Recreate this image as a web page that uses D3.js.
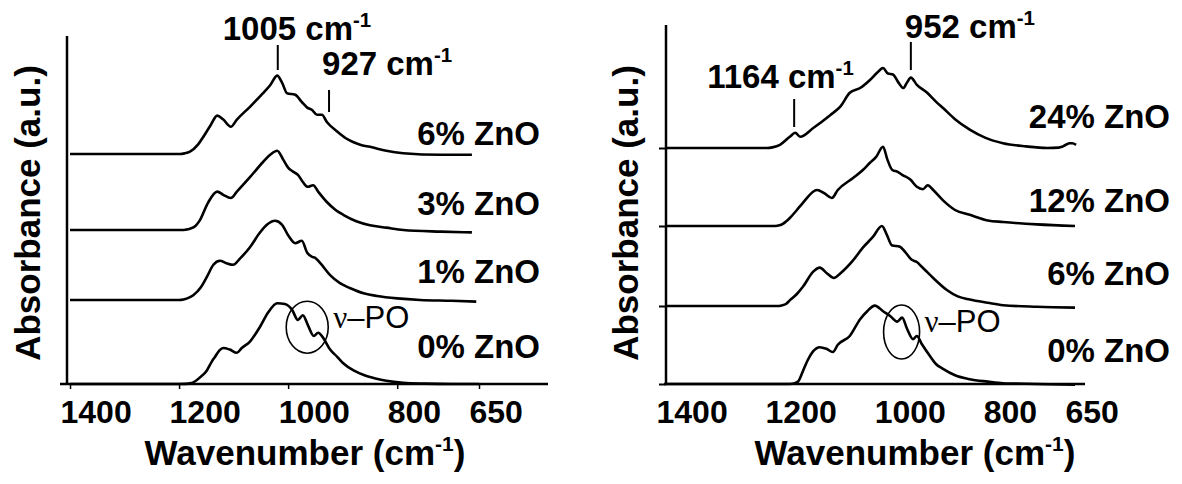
<!DOCTYPE html>
<html>
<head>
<meta charset="utf-8">
<script src="https://cdn.jsdelivr.net/npm/d3@7"></script>
<style>
  body { margin: 0; background: #fff; }
  svg text { font-family: "Liberation Sans", Arial, sans-serif; font-weight: bold; fill: #000; }
</style>
</head>
<body>
<svg id="chart" width="1182" height="484"></svg>
<script>
// tick labels (both panels)
var wnTicks = [1400, 1200, 1000, 800, 650];

// left panel: sample names, stacking offsets (a.u.), spectra [wavenumber, absorbance]
var leftNames = ['0% ZnO', '1% ZnO', '3% ZnO', '6% ZnO'];
var leftOffsets = [0, 1.05, 1.925, 2.875];
var left0 = [[1400,0],[1300,0],[1200,0],[1188,0.002],[1180,0.008],[1174,0.02],[1162,0.08],[1149,0.17],[1140,0.28],[1134,0.34],[1126,0.42],[1119,0.45],[1107,0.43],[1094,0.39],[1085,0.45],[1070,0.53],[1052,0.71],[1037,0.89],[1020,1.01],[1006,1.0],[993,0.93],[982,0.8],[973,0.86],[964,0.74],[953,0.6],[945,0.64],[936,0.58],[923,0.43],[910,0.34],[899,0.26],[880,0.17],[860,0.11],[840,0.07],[820,0.04],[789,0.015],[750,0.005],[700,0],[650,0]];
var left1 = [[1400,0],[1300,0],[1200,0],[1192,0.006],[1185,0.02],[1174,0.06],[1160,0.16],[1149,0.29],[1137,0.44],[1125,0.49],[1113,0.46],[1101,0.44],[1088,0.52],[1070,0.66],[1052,0.84],[1039,0.94],[1024,0.99],[1011,0.94],[1000,0.81],[987,0.71],[975,0.74],[965,0.59],[956,0.54],[951,0.53],[941,0.46],[923,0.31],[905,0.21],[887,0.15],[860,0.08],[837,0.05],[800,0.02],[758,0],[700,-0.01],[655,-0.02]];
var left3 = [[1400,0],[1300,0],[1196,0],[1188,0.004],[1180,0.015],[1170,0.05],[1162,0.12],[1147,0.34],[1130,0.48],[1119,0.44],[1105,0.4],[1094,0.48],[1070,0.66],[1046,0.85],[1033,0.94],[1020,0.99],[1009,0.88],[1000,0.78],[991,0.73],[982,0.69],[973,0.6],[964,0.54],[954,0.56],[945,0.48],[929,0.35],[913,0.25],[899,0.19],[875,0.11],[850,0.06],[820,0.03],[789,0],[720,-0.02],[663,-0.03]];
var left6 = [[1400,0],[1300,0],[1198,0],[1190,0.008],[1180,0.03],[1165,0.12],[1156,0.21],[1143,0.35],[1130,0.48],[1119,0.43],[1105,0.34],[1094,0.43],[1070,0.59],[1046,0.76],[1033,0.86],[1020,0.98],[1011,0.89],[1002,0.76],[987,0.74],[975,0.65],[965,0.58],[956,0.55],[947,0.49],[938,0.49],[929,0.4],[910,0.28],[895,0.2],[881,0.15],[865,0.11],[850,0.09],[820,0.04],[789,0.01],[720,-0.01],[663,-0.01]];

// right panel
var rightNames = ['0% ZnO', '6% ZnO', '12% ZnO', '24% ZnO'];
var rightOffsets = [0, 0.975, 1.975, 2.95];
var right0 = [[1400,0],[1300,0],[1180,0],[1168,0.004],[1158,0.03],[1149,0.16],[1140,0.3],[1130,0.41],[1118,0.46],[1106,0.44],[1094,0.4],[1085,0.49],[1063,0.6],[1044,0.81],[1031,0.91],[1017,0.98],[1002,0.91],[989,0.85],[976,0.78],[967,0.83],[958,0.69],[947,0.56],[940,0.6],[931,0.5],[916,0.35],[905,0.25],[892,0.19],[870,0.11],[843,0.06],[810,0.03],[782,0.01],[720,0],[650,-0.01]];
var right6 = [[1400,0],[1300,0],[1196,0],[1188,0.007],[1180,0.025],[1173,0.07],[1160,0.15],[1149,0.24],[1130,0.43],[1118,0.48],[1105,0.41],[1092,0.35],[1080,0.41],[1057,0.57],[1039,0.73],[1021,0.86],[1004,1.0],[995,0.89],[986,0.76],[971,0.74],[962,0.68],[950,0.58],[940,0.55],[931,0.49],[925,0.45],[910,0.35],[885,0.2],[865,0.12],[843,0.08],[810,0.04],[782,0.01],[720,-0.01],[650,-0.02]];
var right12 = [[1400,0],[1300,0],[1200,0],[1192,0.008],[1185,0.03],[1173,0.1],[1160,0.2],[1149,0.29],[1123,0.45],[1110,0.41],[1096,0.35],[1085,0.45],[1057,0.6],[1039,0.7],[1026,0.79],[1015,0.86],[1002,0.99],[994,0.83],[985,0.7],[976,0.68],[967,0.64],[952,0.58],[940,0.49],[929,0.46],[920,0.51],[910,0.45],[892,0.32],[870,0.2],[843,0.14],[810,0.07],[782,0.05],[720,0.02],[650,0]];
var right24 = [[1400,0],[1300,0],[1215,0],[1205,0.008],[1191,0.04],[1173,0.14],[1163,0.19],[1154,0.14],[1130,0.25],[1099,0.41],[1080,0.52],[1063,0.69],[1044,0.75],[1026,0.85],[1013,0.94],[1002,1.0],[993,0.93],[984,0.92],[974,0.82],[965,0.75],[958,0.82],[951,0.88],[940,0.79],[921,0.69],[905,0.58],[892,0.5],[870,0.36],[843,0.23],[815,0.13],[782,0.06],[740,0.02],[701,0],[680,0.005],[672,0.02],[660,0.06],[655,0.06],[648,0.04]];

// peak annotations: text and marker wavenumber as placed in the picture
var leftPeaks = [{text: '1005', wn: 1019}, {text: '927', wn: 925}];
var rightPeaks = [{text: '1164', wn: 1165}, {text: '952', wn: 951}];

var svg = d3.select('#chart');

function cmLabel(sel, num, size) {
    sel.text(null);
    sel.append('tspan').text(num + ' cm');
    sel.append('tspan').attr('dy', -size * 0.38).style('font-size', (size * 0.62) + 'px').text('-1');
}

function drawPanel(p) {
    var g = svg.append('g');
    var x = d3.scaleLinear().domain([1400, 650]).range(p.xRange);
    var y = d3.scaleLinear().domain([0, 4.4]).range([384, 32]);

    // axes
    var xAxis = d3.axisBottom(x).tickValues(wnTicks).tickSize(p.xTick).tickFormat(d3.format('d'));
    var gx = g.append('g').attr('transform', 'translate(0,384)').call(xAxis);
    gx.select('.domain').remove();
    gx.selectAll('.tick line').attr('stroke', '#000').attr('stroke-width', 1.5);
    gx.selectAll('.tick text')
        .attr('text-anchor', 'start').attr('dx', -10).attr('dy', 0).attr('y', 39)
        .style('font-size', '32px');
    g.append('line').attr('x1', p.xLine[0]).attr('x2', p.xLine[1]).attr('y1', 384).attr('y2', 384)
        .attr('stroke', '#000').attr('stroke-width', 2.5);

    var yAxis = d3.axisLeft(y).tickValues(p.offsets).tickSize(p.yTick).tickFormat('');
    var gy = g.append('g').attr('transform', 'translate(' + p.yAxisX + ',0)').call(yAxis);
    gy.select('.domain').remove();
    gy.selectAll('.tick line').attr('stroke', '#000').attr('stroke-width', 2);
    g.append('line').attr('x1', p.yAxisX).attr('x2', p.yAxisX).attr('y1', p.yTop).attr('y2', 385)
        .attr('stroke', '#000').attr('stroke-width', 2.5);

    // spectra
    p.series.forEach(function(s, i) {
        var off = p.offsets[i];
        var line = d3.line()
            .x(function(d) { return x(d[0]); })
            .y(function(d) { return y(d[1] + off); })
            .curve(d3.curveMonotoneX);
        g.append('path').attr('d', line(s))
            .attr('fill', 'none').attr('stroke', '#000').attr('stroke-width', 2.6)
            .attr('stroke-linejoin', 'round');

        g.append('text').attr('x', p.labelX).attr('y', y(off) + p.labelDy[i])
            .attr('text-anchor', 'end').style('font-size', '33px').text(p.names[i]);
    });

    // peak markers
    p.peaks.forEach(function(pk, i) {
        var m = p.marks[i];
        g.append('line').attr('x1', x(pk.wn)).attr('x2', x(pk.wn)).attr('y1', m.y1).attr('y2', m.y2)
            .attr('stroke', '#000').attr('stroke-width', 2);
        g.append('text').attr('x', x(pk.wn) + m.dx).attr('y', m.ty).style('font-size', '33px')
            .call(cmLabel, pk.text, 33);
    });

    // v-PO circle
    g.append('ellipse').attr('cx', x(p.circle.wn)).attr('cy', y(p.circle.a))
        .attr('rx', p.circle.rx).attr('ry', p.circle.ry)
        .attr('fill', 'none').attr('stroke', '#000').attr('stroke-width', 1.6);
    var t = g.append('text').attr('x', x(p.circle.wn) + p.circle.rx + 5).attr('y', p.circle.ty)
        .style('font-weight', 'normal').style('font-size', '31px');
    t.append('tspan').style('font-family', '"Liberation Serif", serif').text('\u03bd');
    t.append('tspan').text('\u2013PO');

    // titles
    g.append('text')
        .attr('transform', 'translate(' + p.yTitleX + ',213) rotate(-90)')
        .attr('text-anchor', 'middle').style('font-size', '35px').text('Absorbance (a.u.)');
    var xt = g.append('text').attr('x', p.xTitleX).attr('y', 465)
        .attr('text-anchor', 'middle').style('font-size', '35px');
    xt.append('tspan').text('Wavenumber (cm');
    xt.append('tspan').attr('dy', -14).style('font-size', '21px').text('-1');
    xt.append('tspan').attr('dy', 14).text(')');
}

drawPanel({
    xRange: [70, 479], xLine: [60, 548], xTick: 5,
    yAxisX: 67, yTop: 36, yTick: 0, offsets: leftOffsets,
    series: [left0, left1, left3, left6], names: leftNames,
    labelX: 540, labelDy: [-26, -17, -15, -9],
    peaks: leftPeaks,
    marks: [{y1: 45, y2: 70, dx: -55, ty: 40}, {y1: 90, y2: 112, dx: -7, ty: 75}],
    circle: {wn: 965, a: 0.71, rx: 21, ry: 26, ty: 328},
    yTitleX: 40, xTitleX: 305
});

drawPanel({
    xRange: [666, 1075], xLine: [664, 1085], xTick: 0,
    yAxisX: 666, yTop: 25, yTick: 7, offsets: rightOffsets,
    series: [right0, right6, right12, right24], names: rightNames,
    labelX: 1170, labelDy: [-22, -21, -14, -20],
    peaks: rightPeaks,
    marks: [{y1: 99, y2: 127, dx: -87, ty: 88}, {y1: 42, y2: 70, dx: -6, ty: 38}],
    circle: {wn: 968, a: 0.65, rx: 18, ry: 27, ty: 332},
    yTitleX: 638, xTitleX: 915
});
</script>
</body>
</html>
